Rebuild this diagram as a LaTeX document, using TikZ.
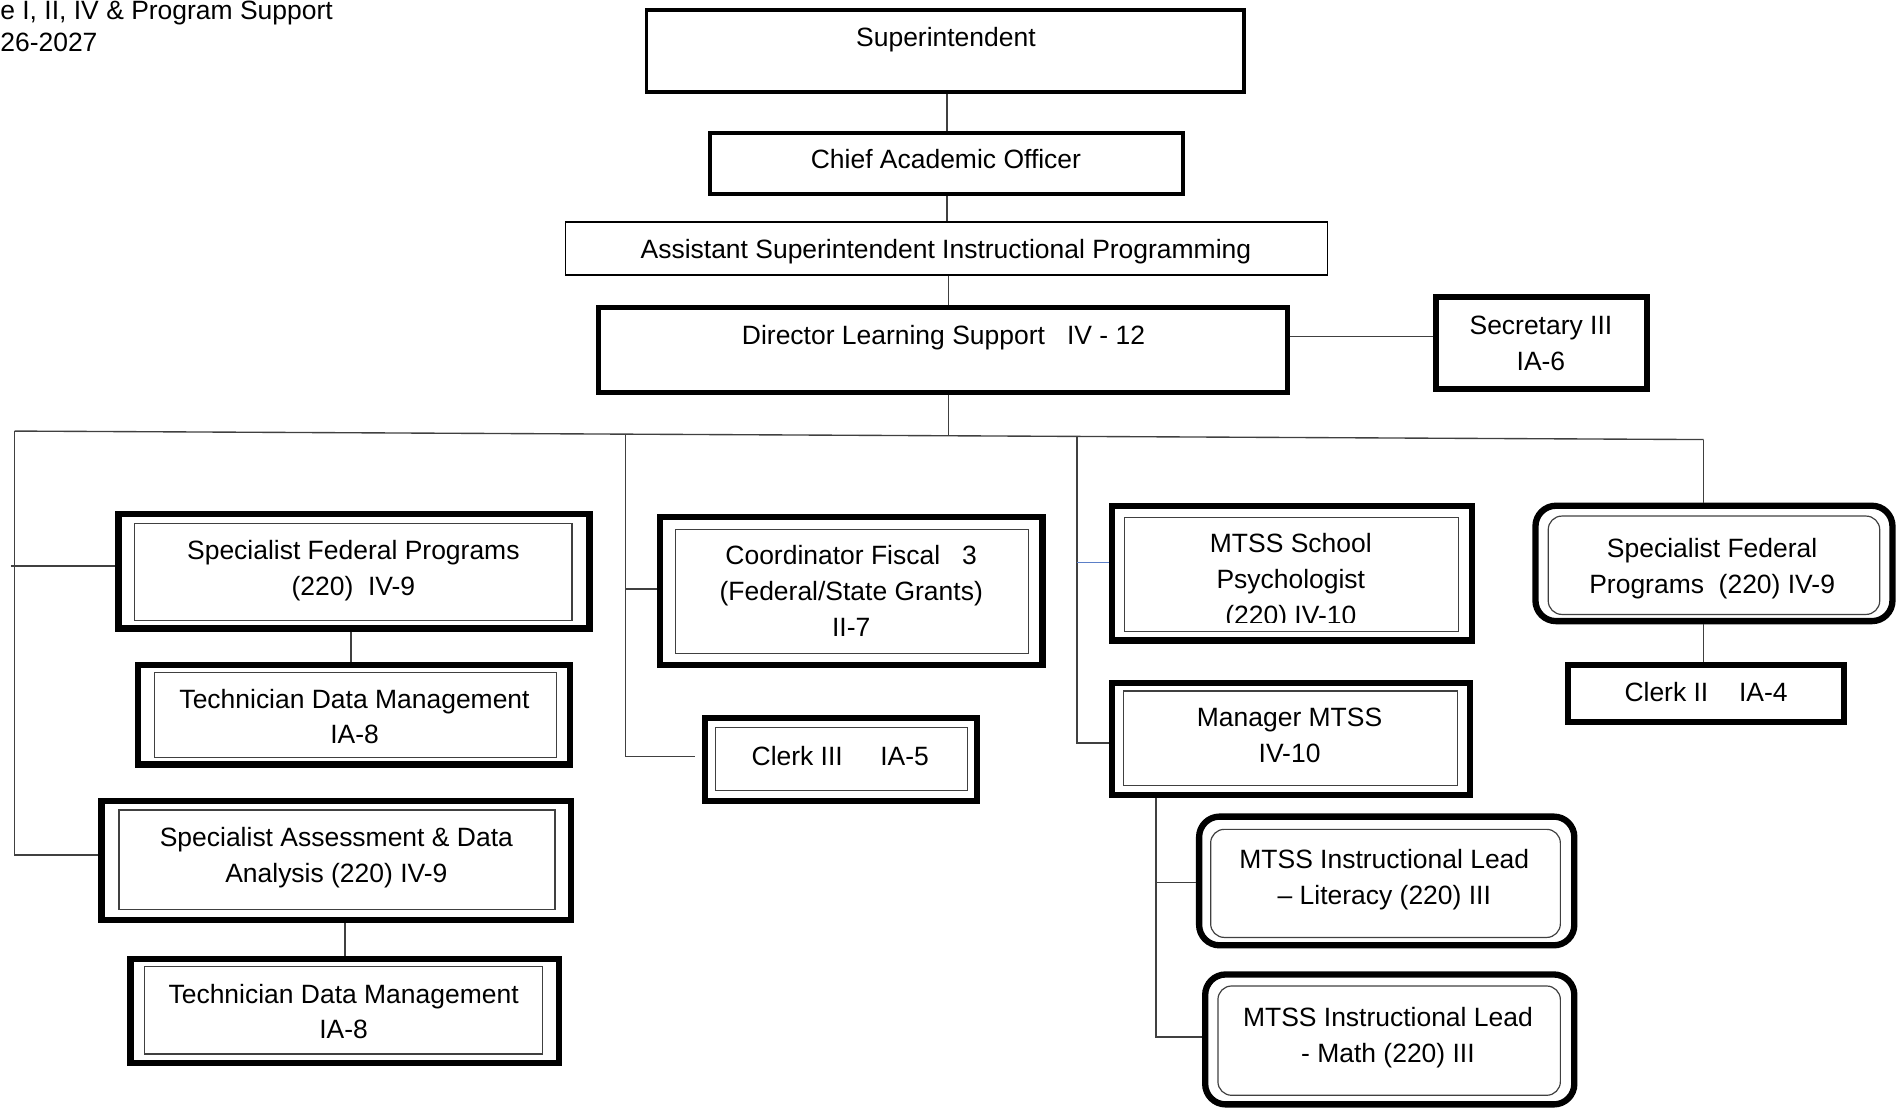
\documentclass[tikz,border=0pt]{standalone}
\usepackage{fontspec}
\setmainfont{Liberation Sans}
\usetikzlibrary{fit}
\definecolor{blueish}{RGB}{91,127,199}
\begin{document}
\begin{tikzpicture}[x=0.025cm,y=-0.025cm,
  txt/.style={inner sep=0pt, anchor=north, align=center, font=\fontsize{15.5}{21}\selectfont},
  frame/.style={draw=black, inner sep=0pt, line width=3.7pt},
  inframe/.style={draw=black!75, inner sep=0pt, line width=0.7pt},
  rframe/.style={frame, rounded corners=12pt},
  rinframe/.style={inframe, rounded corners=8pt},
  conn/.style={draw=black!75, line width=0.8pt},
]
\useasboundingbox (0,0) rectangle (1568,912);

% title
\node[txt, anchor=north west] (title1) at (0,0.5) {e I, II, IV \& Program Support};
\node[txt, anchor=north west] (title2) at (0,27) {26-2027};

% top chain
\node[frame, line width=2.2pt, fit={(532.5,8.5) (1024.5,75.5)}] (sup) {};
\node[txt] (sup-t) at (779,22) {Superintendent};
\node[frame, line width=2.2pt, fit={(584.5,109.5) (974.5,159.5)}] (chief) {};
\node[txt] (chief-t) at (779,123) {Chief Academic Officer};
\node[frame, line width=1pt, fit={(465.7,182.7) (1093.3,226.3)}] (asst) {};
\node[txt] (asst-t) at (779,197) {Assistant Superintendent Instructional Programming};
\node[frame, line width=2.9pt, fit={(493,253) (1060,323)}] (dir) {};
\node[txt] (dir-t) at (777,268) {Director Learning Support\ \ \ IV - 12};
\node[frame, fit={(1182.5,244.5) (1356.5,320.5)}] (sec) {};
\node[txt] (sec-t) at (1269,260) {Secretary III\\IA-6};

% column 1
\node[frame, fit={(97.5,423.5) (485.5,517.5)}] (sfpL) {};
\node[inframe, fit={(111,431) (471,511)}] (sfpL-in) {};
\node[txt] (sfpL-t) at (291,445) {Specialist Federal Programs\\(220)\ \ IV-9};
\node[frame, fit={(113.5,547.5) (469.5,629.5)}] (tdm1) {};
\node[inframe, fit={(127,554) (458,624)}] (tdm1-in) {};
\node[txt] (tdm1-t) at (292,567) {Technician Data Management\\IA-8};
\node[frame, fit={(83.5,659.5) (470.5,757.5)}] (sada) {};
\node[inframe, fit={(98,667) (457,749)}] (sada-in) {};
\node[txt] (sada-t) at (277,681) {Specialist Assessment \& Data\\Analysis (220) IV-9};
\node[frame, fit={(107.5,789.5) (460.5,875.5)}] (tdm2) {};
\node[inframe, fit={(119,796) (447,868)}] (tdm2-in) {};
\node[txt] (tdm2-t) at (283,810) {Technician Data Management\\IA-8};

% column 2
\node[frame, fit={(543.5,425.5) (858.5,547.5)}] (cf) {};
\node[inframe, fit={(556,436) (847,538)}] (cf-in) {};
\node[txt] (cf-t) at (701,449) {Coordinator Fiscal\ \ \ 3\\(Federal/State Grants)\\II-7};
\node[frame, fit={(580.5,591.5) (804.5,659.5)}] (clk3) {};
\node[inframe, fit={(589,599) (797,651)}] (clk3-in) {};
\node[txt] (clk3-t) at (692,614) {Clerk III\hspace{22pt}IA-5};

% column 3
\node[frame, fit={(915.5,416.5) (1212.5,527.5)}] (psy) {};
\node[inframe, fit={(926,426) (1201,520)}] (psy-in) {};
\begin{scope}
\clip (926,426) rectangle (1201,513);
\node[txt] (psy-t) at (1063,439) {MTSS School\\Psychologist\\(220) IV-10};
\end{scope}
\node[frame, fit={(915.5,562.5) (1210.5,654.5)}] (mgr) {};
\node[inframe, fit={(925,569) (1200,647)}] (mgr-in) {};
\node[txt] (mgr-t) at (1062,583) {Manager MTSS\\IV-10};
\node[rframe, fit={(987.5,672.5) (1296.5,778.5)}] (lit) {};
\node[rinframe, fit={(997,683) (1285,772)}] (lit-in) {};
\node[txt] (lit-t) at (1140,699) {MTSS Instructional Lead\\– Literacy (220) III};
\node[rframe, fit={(992.5,802.5) (1296.5,909.5)}] (math) {};
\node[rinframe, fit={(1003,812) (1285,902)}] (math-in) {};
\node[txt] (math-t) at (1143,829) {MTSS Instructional Lead\\- Math (220) III};

% column 4
\node[rframe, fit={(1264.5,416.5) (1558.5,511.5)}] (sfpR) {};
\node[rinframe, fit={(1275,425) (1548,506)}] (sfpR-in) {};
\node[txt] (sfpR-t) at (1410,443) {Specialist Federal\\Programs\ \ (220) IV-9};
\node[frame, fit={(1291.5,547.5) (1518.5,594.5)}] (clk2) {};
\node[txt] (clk2-t) at (1405,562) {Clerk II\hspace{18pt}IA-4};

% connectors
\coordinate (busL) at (12,355);
\coordinate (busR) at (1403,362);
\coordinate (b1) at (781,358.5);
\coordinate (b2) at (515,357.5);
\coordinate (b3) at (887,359.5);
\coordinate (cx0) at (780,0);
\coordinate (cx1) at (781,0);
\coordinate (ry) at (0,277);
\draw[conn] (busL) -- (busR);
\draw[conn] (cx0 |- sup.south) -- (cx0 |- chief.north);
\draw[conn] (cx0 |- chief.south) -- (cx0 |- asst.north);
\draw[conn] (cx1 |- asst.south) -- (cx1 |- dir.north);
\draw[conn] (cx1 |- dir.south) -- (b1);
\draw[conn] (dir.east |- ry) -- (sec.west |- ry);

\coordinate (yL1) at (0,466);
\coordinate (yL2) at (0,704);
\coordinate (tickL) at (9,466);
\coordinate (cxA) at (289,0);
\coordinate (cxB) at (284,0);
\draw[conn] (busL) |- (sada.west |- yL2);
\draw[conn] (tickL) -- (sfpL.west |- yL1);
\draw[conn] (cxA |- sfpL.south) -- (cxA |- tdm1.north);
\draw[conn] (cxB |- sada.south) -- (cxB |- tdm2.north);

\coordinate (y2a) at (0,485);
\coordinate (y2b) at (0,623);
\draw[conn, shorten >=4pt] (b2) |- (clk3.west |- y2b);
\draw[conn] (b2 |- y2a) -- (cf.west |- y2a);

\coordinate (y3a) at (0,463);
\coordinate (y3b) at (0,612);
\coordinate (y3c) at (0,727);
\coordinate (y3d) at (0,854);
\coordinate (cx3) at (952,0);
\draw[conn] (b3) |- (mgr.west |- y3b);
\draw[conn, draw=blueish] (b3 |- y3a) -- (psy.west |- y3a);
\draw[conn] (cx3 |- mgr.south) |- (math.west |- y3d);
\draw[conn] (cx3 |- y3c) -- (lit.west |- y3c);

\draw[conn] (busR) -- (busR |- sfpR.north);
\draw[conn] (busR |- sfpR.south) -- (busR |- clk2.north);
\end{tikzpicture}
\end{document}
